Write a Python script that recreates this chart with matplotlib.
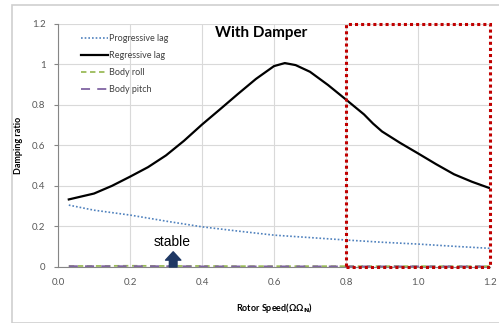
import matplotlib
matplotlib.use("Agg")
import matplotlib.pyplot as plt
from matplotlib.patches import Rectangle

plt.rcParams['font.family'] = ['Lato', 'DejaVu Sans']

# ─── Data ────────────────────────────────────────────────
speed_reg = [0.03, 0.1, 0.15, 0.2, 0.25, 0.3, 0.35, 0.4, 0.45, 0.5, 0.55, 0.6, 0.63,
             0.66, 0.7, 0.75, 0.8, 0.85, 0.875, 0.9, 0.95, 1.0, 1.05, 1.1, 1.15, 1.2]
regressive = [0.333, 0.362, 0.40, 0.445, 0.492, 0.55, 0.622, 0.702, 0.777, 0.853, 0.927,
              0.99, 1.005, 0.995, 0.962, 0.897, 0.825, 0.752, 0.707, 0.668, 0.612, 0.56,
              0.507, 0.457, 0.42, 0.388]

speed = [0.03, 0.1, 0.2, 0.3, 0.4, 0.5, 0.6, 0.7, 0.8, 0.9, 1.0, 1.1, 1.2]
progressive = [0.305, 0.28, 0.256, 0.226, 0.198, 0.177, 0.157, 0.145, 0.133,
               0.122, 0.113, 0.102, 0.092]
body_roll = [0.005, 0.005, 0.006, 0.005, 0.005, 0.004, 0.004, 0.004, 0.004,
             0.004, 0.004, 0.004, 0.004]
body_pitch = [0.004, 0.004, 0.004, 0.004, 0.003, 0.003, 0.003, 0.003, 0.003,
              0.003, 0.003, 0.003, 0.003]

xticks = [0.0, 0.2, 0.4, 0.6, 0.8, 1.0, 1.2]
xtick_labels = ["0.0", "0.2", "0.4", "0.6", "0.8", "1.0", "1.2"]
yticks = [0, 0.2, 0.4, 0.6, 0.8, 1.0, 1.2]
ytick_labels = ["0", "0.2", "0.4", "0.6", "0.8", "1", "1.2"]

# ─── Figure ──────────────────────────────────────────────
fig = plt.figure(figsize=(4.99, 3.23), dpi=100)
fig.patches.append(Rectangle((12 / 499, 0), 1.0, 1 - 5 / 323, transform=fig.transFigure,
                             fill=False, edgecolor="#cfcfcf", linewidth=1.2))
ax = fig.add_axes([58 / 499, 1 - 267 / 323, 432 / 499, 243.5 / 323])

ax.plot(speed, progressive, color="#4f81bd", linestyle=(0, (1, 1.2)), linewidth=1.2,
        label="Progressive lag")
ax.plot(speed_reg, regressive, color="black", linewidth=1.6, label="Regressive lag")
ax.plot(speed, body_roll, color="#9bbb59", linestyle=(0, (3, 2)), linewidth=1.3,
        label="Body roll")
ax.plot(speed, body_pitch, color="#8064a2", linestyle=(0, (5, 4)), linewidth=1.3,
        label="Body pitch")

ax.set_xlim(0, 1.2)
ax.set_ylim(0, 1.2)
ax.set_xticks(xticks, xtick_labels)
ax.set_yticks(yticks, ytick_labels)
ax.tick_params(axis="both", labelsize=7, labelcolor="#595959", colors="#868686")
ax.tick_params(axis="x", length=0, pad=8)
ax.tick_params(axis="y", length=3, pad=6)
ax.grid(True, color="#d9d9d9", linewidth=0.8)
ax.set_axisbelow(True)
for s in ["top", "right"]:
    ax.spines[s].set_visible(False)
for s in ["left", "bottom"]:
    ax.spines[s].set_color("#868686")
    ax.spines[s].set_linewidth(0.8)

ax.set_xlabel(r"Rotor Speed(ΩΩ$_\mathbf{N}$)", fontsize=6.5, fontweight="bold", labelpad=10)
ax.set_ylabel("Damping ratio", fontsize=6.5, fontweight="bold")
ax.yaxis.set_label_coords(-0.082, 0.5)

# region of interest box
ax.add_patch(Rectangle((0.8, 0), 0.4, 1.2, fill=False, edgecolor="#c00000",
                       linestyle=(0, (1, 1)), linewidth=2.2, clip_on=False, zorder=5))

ax.text(0.564, 1.151, "With Damper", fontsize=11, fontweight="bold",
        ha="center", va="center")
ax.text(0.316, 0.125, "stable", fontsize=10, ha="center", va="center",
        family=["Liberation Sans", "DejaVu Sans"])
ax.annotate("", xy=(0.32, 0.075), xytext=(0.32, 0.0),
            arrowprops=dict(arrowstyle="simple,head_width=1.1,head_length=0.6,tail_width=0.55",
                            color="#1f3864", shrinkA=0, shrinkB=0))

leg = ax.legend(loc="upper left", bbox_to_anchor=(0.035, 0.99), frameon=False,
                fontsize=6.5, handlelength=3.0, handletextpad=0.1, labelspacing=0.9,
                labelcolor="#404040")

fig.savefig("out.png", dpi=100)
